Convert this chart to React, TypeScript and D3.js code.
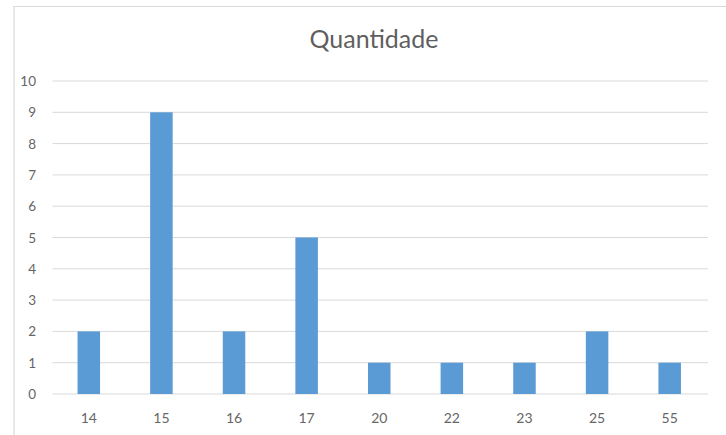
import React from "react";
import * as d3 from "d3";

const categories = ["14", "15", "16", "17", "20", "22", "23", "25", "55"];
const values = [2, 9, 2, 5, 1, 1, 1, 2, 1];
const yTicks = [0, 1, 2, 3, 4, 5, 6, 7, 8, 9, 10];
const title = "Quantidade";

export default function App() {
  const W = 726, H = 435;
  const left = 52.5, right = 706, top = 81, bottom = 394;
  const x = d3.scaleBand<string>().domain(categories).range([left, right]).paddingInner(0.69).paddingOuter(0.345);
  const y = d3.scaleLinear().domain([0, 10]).range([bottom, top]);
  const font = "Lato, 'Open Sans', sans-serif";
  return (
    <svg width={W} height={H} style={{ position: "absolute", left: 0, top: 0, background: "#fff" }}>
      <line x1={14} x2={14} y1={6} y2={H} stroke="#d9d9d9" strokeWidth={1.2} />
      <line x1={14} x2={W} y1={6.5} y2={6.5} stroke="#d9d9d9" strokeWidth={1.2} />
      <text x={374} y={48} textAnchor="middle" fontFamily={font} fontSize={25} fill="#5f5f5f">{title}</text>
      {yTicks.map((t) => (
        <g key={t}>
          <line x1={left} x2={708} y1={y(t)} y2={y(t)} stroke="#d9d9d9" strokeWidth={1} />
          <text x={36} y={y(t)} textAnchor="end" dominantBaseline="central" fontFamily={font} fontSize={13.5} fill="#666">{t}</text>
        </g>
      ))}
      {categories.map((c, i) => (
        <g key={c}>
          <rect x={x(c)} y={y(values[i])} width={x.bandwidth()} height={y(0) - y(values[i])} fill="#5b9bd5" />
          <text x={(x(c) ?? 0) + x.bandwidth() / 2} y={417} textAnchor="middle" dominantBaseline="central" fontFamily={font} fontSize={14} fill="#666">{c}</text>
        </g>
      ))}
    </svg>
  );
}
